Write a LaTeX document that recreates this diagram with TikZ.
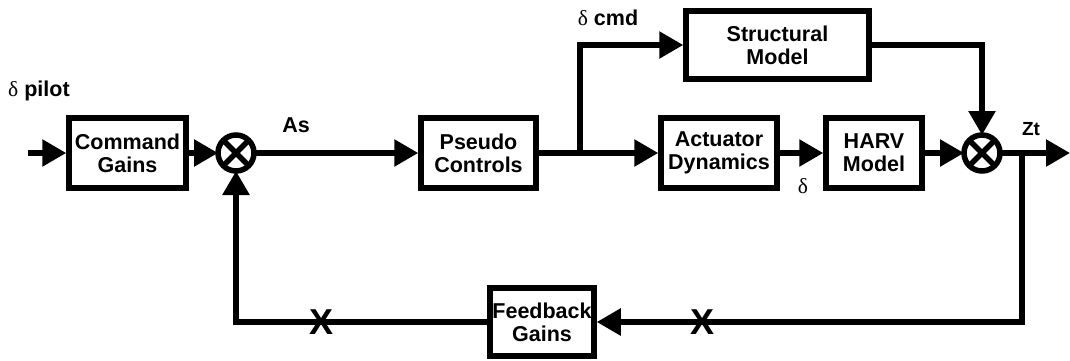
\documentclass[tikz,border=0pt]{standalone}
\usepackage{fontspec}
\setmainfont{Liberation Sans}
\newfontfamily\greekfont{Liberation Serif}
\usetikzlibrary{arrows.meta,positioning}

\begin{document}
\begin{tikzpicture}[x=1pt,y=-1pt,
    block/.style={draw,line width=5.5pt,inner sep=0pt,align=center,minimum height=70pt,font=\blockfontsize\bfseries},
    junction/.style={draw,circle,line width=5.5pt,minimum size=36pt,inner sep=0pt,outer sep=0pt},
    flow/.style={line width=5.5pt,-{Triangle[length=24pt,width=26pt]}},
    line/.style={line width=5.5pt},
    lbl/.style={inner sep=0pt,font=\blockfontsize\bfseries}]
    \pgfmathsetmacro{\mainy}{153}
    \pgfmathsetmacro{\backy}{322}
    \providecommand{\blockfontsize}{\fontsize{21.5}{23}\selectfont}
    \providecommand{\markfontsize}{\fontsize{36}{36}\selectfont}
    \useasboundingbox (0,0) rectangle (1070,360);
    % blocks
    \node[block,minimum width=117pt] (cmdgains) at (127.5,\mainy) {Command\\Gains};
    \node[junction] (suma) at (236,\mainy) {};
    \node[block,minimum width=115pt,minimum height=70pt] (pseudo) at (478.5,\mainy) {Pseudo\\Controls};
    \node[block,minimum width=183pt,minimum height=68pt] (structural) at (777.5,45) {Structural\\Model};
    \node[block,minimum width=116pt,minimum height=70pt] (actuator) at (719,\mainy) {Actuator\\Dynamics};
    \node[block,minimum width=96pt] (harv) at (874,\mainy) {HARV\\Model};
    \node[junction] (sumb) at (982,\mainy) {};
    \node[block,minimum width=104pt,minimum height=68pt] (feedback) at (542,\backy) {Feedback\\Gains};
    \foreach \s in {suma,sumb}
        \draw[line] (\s.north east) -- (\s.south west) (\s.north west) -- (\s.south east);
    \coordinate (pilotin) at (28,\mainy);
    \coordinate (split) at (580,\mainy);
    \coordinate (tap) at (1022,\mainy);
    \coordinate (ztout) at (1070,\mainy);
    % signals
    \draw[flow] (pilotin) -- (cmdgains);
    \draw[flow] (cmdgains) -- (suma);
    \draw[flow] (suma) -- (pseudo);
    \draw[flow] (pseudo) -- (actuator);
    \draw[flow] (split) |- (structural);
    \draw[flow] (actuator) -- (harv);
    \draw[flow] (harv) -- (sumb);
    \draw[flow] (structural) -| (sumb);
    \draw[flow] (sumb) -- (ztout);
    \draw[flow] (tap) |- (feedback);
    \draw[flow] (feedback) -| (suma);
    % labels
    \node[lbl,anchor=west] (pilot) at (8,91) {{\greekfont\mdseries δ} pilot};
    \node[lbl] (as) at (296,125) {As};
    \node[lbl] (cmd) at (608,18) {{\greekfont\mdseries δ} cmd};
    \node[lbl] (delta) at (803,186) {\greekfont\mdseries δ};
    \node[lbl,font=\fontsize{19}{19}\selectfont\bfseries] (zt) at (1031,129) {Zt};
    \node[lbl,font=\markfontsize\bfseries] (breaka) at (322,\backy) {X};
    \node[lbl,font=\markfontsize\bfseries] (breakb) at (702,\backy) {X};
\end{tikzpicture}
\end{document}
